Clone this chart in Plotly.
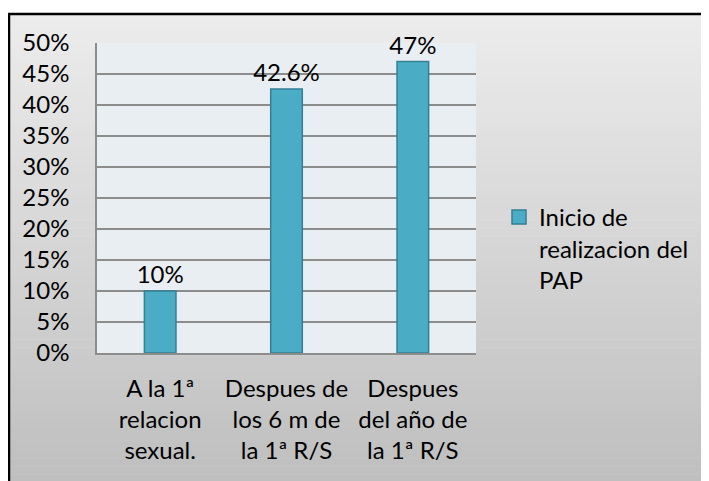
import plotly.graph_objects as go

categorias = ["A la 1ª<br>relacion<br>sexual.",
              "Despues de<br>los 6 m de<br>la 1ª R/S",
              "Despues<br>del año de<br>la 1ª R/S"]
valores = [10, 42.6, 47]
etiquetas = ["10%", "42.6%", "47%"]
serie = "Inicio de<br>realizacion del<br>PAP"

# the page body adds an 8px margin, so the figure is drawn at (8, 8)
OFF = 8
W, H = 709 - OFF, 481 - OFF
L, R, T, B = 97 - OFF, 476 - OFF, 43 - OFF, 353 - OFF   # plot area, figure pixels

def px(x):
    return (x - OFF - L) / (R - L)

def py(y):
    return (B - (y - OFF)) / (B - T)

azul = "#4BACC6"
borde = "#357F95"

fig = go.Figure()
fig.add_trace(go.Bar(
    x=categorias, y=valores, name=serie, showlegend=False,
    text=etiquetas, textposition="outside", cliponaxis=False,
    constraintext="none",
    textfont=dict(color="black", size=24),
    marker=dict(color=azul, line=dict(color=borde, width=1.5)),
))
# legend entry with a larger square swatch
fig.add_trace(go.Scatter(
    x=[None], y=[None], mode="markers", name=serie,
    marker=dict(symbol="square", size=14, color=azul,
                line=dict(color=borde, width=1.5)),
))

shapes = []
# gradient background of chart area
n = 60
top, bot = 14, 490
c0, c1 = (236, 236, 236), (190, 190, 190)
for i in range(n):
    t = i / (n - 1)
    c = tuple(round(c0[k] + (c1[k] - c0[k]) * t) for k in range(3))
    y0 = top + (bot - top) * i / n
    y1 = top + (bot - top) * (i + 1) / n + 0.6
    shapes.append(dict(type="rect", xref="paper", yref="paper", layer="below",
                       x0=px(9), x1=px(730), y0=py(y0), y1=py(y1),
                       fillcolor="rgb(%d,%d,%d)" % c, line=dict(width=0)))
# plot area fill
shapes.append(dict(type="rect", xref="x domain", yref="y domain", layer="below",
                   x0=0, x1=1, y0=0, y1=1, fillcolor="#E8EEF2", line=dict(width=0)))
# outer frame
shapes.append(dict(type="rect", xref="paper", yref="paper", layer="above",
                   x0=px(9), x1=px(740), y0=py(14), y1=py(500),
                   line=dict(color="black", width=2.5)))

font = "Lato, Carlito, Calibri, sans-serif"
fig.update_layout(
    width=W, height=H,
    margin=dict(l=L, r=W - R, t=T, b=H - B, autoexpand=False),
    paper_bgcolor="white", plot_bgcolor="rgba(0,0,0,0)",
    font=dict(family=font, size=24, color="black"),
    bargap=0.75,
    showlegend=True,
    legend=dict(x=px(499), y=py(195), xanchor="left", yanchor="top",
                valign="top", bgcolor="rgba(0,0,0,0)", font=dict(size=24),
                tracegroupgap=0),
    shapes=shapes,
)
fig.update_xaxes(showgrid=False, showline=True, linecolor="#8C8C8C", linewidth=1.5,
                 ticks="", tickfont=dict(size=24), ticklabelstandoff=13,
                 automargin=False)
fig.update_yaxes(range=[0, 50], dtick=5, ticksuffix="%", showgrid=True,
                 gridcolor="#8C8C8C", gridwidth=1.5, showline=True,
                 linecolor="#8C8C8C", linewidth=1.5, zeroline=False,
                 ticks="", tickfont=dict(size=24), ticklabelstandoff=21,
                 automargin=False)

fig.write_html("out.html")
